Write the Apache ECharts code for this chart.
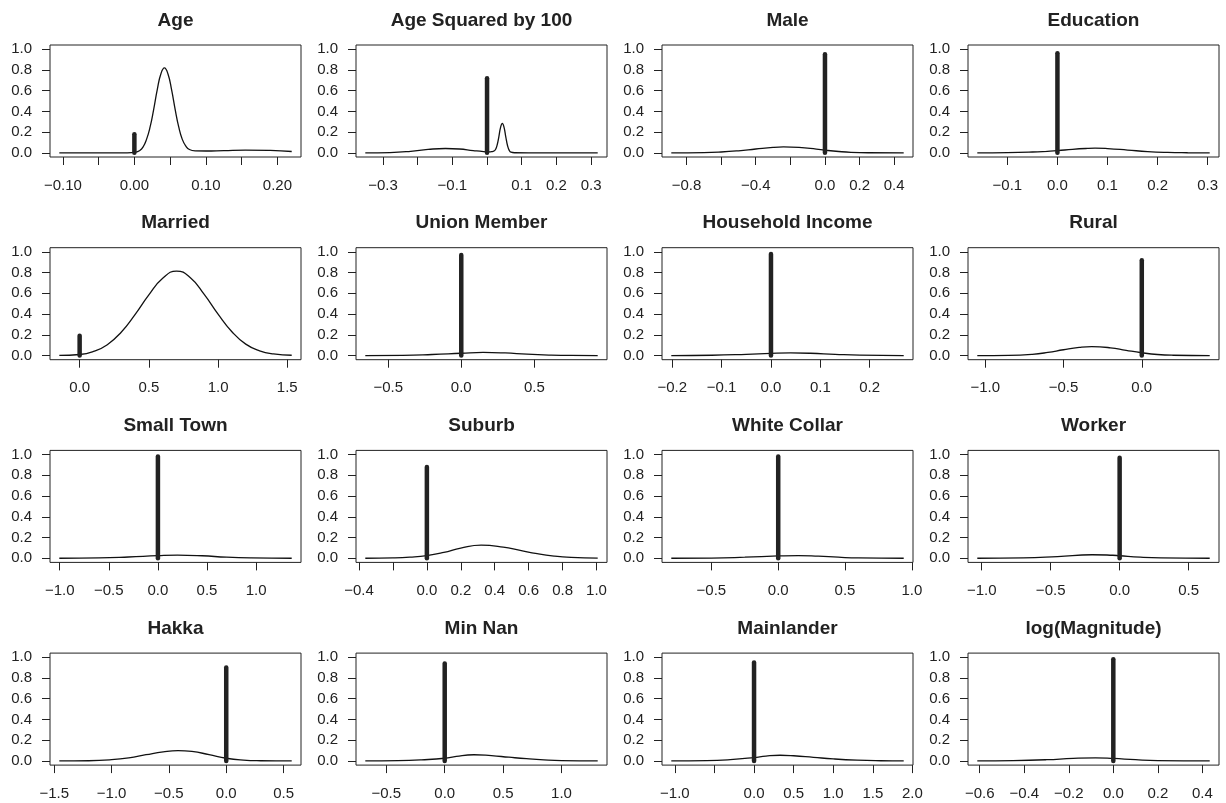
<!DOCTYPE html>
<html>
<head>
<meta charset="utf-8">
<script src="https://cdn.jsdelivr.net/npm/echarts@6/dist/echarts.min.js"></script>
<style>
  html, body { margin: 0; padding: 0; background: #fff; }
  #chart { width: 1226px; height: 803px; }
</style>
</head>
<body>
<div id="chart"></div>
<script>
const titles = ['Age', 'Age Squared by 100', 'Male', 'Education',
  'Married', 'Union Member', 'Household Income', 'Rural',
  'Small Town', 'Suburb', 'White Collar', 'Worker',
  'Hakka', 'Min Nan', 'Mainlander', 'log(Magnitude)'];

// height of the point mass at zero
const spikeHeights = [0.18, 0.72, 0.95, 0.96, 0.19, 0.97, 0.98, 0.92,
  0.98, 0.88, 0.98, 0.97, 0.90, 0.94, 0.95, 0.98];

// tick marks and the ones that carry a label
const xTicks = [
  [-0.10, -0.05, 0, 0.05, 0.10, 0.15, 0.20],
  [-0.3, -0.2, -0.1, 0, 0.1, 0.2, 0.3],
  [-0.8, -0.6, -0.4, -0.2, 0, 0.2, 0.4],
  [-0.1, 0, 0.1, 0.2, 0.3],
  [0, 0.5, 1.0, 1.5],
  [-0.5, 0, 0.5],
  [-0.2, -0.1, 0, 0.1, 0.2],
  [-1.0, -0.5, 0],
  [-1.0, -0.5, 0, 0.5, 1.0],
  [-0.4, -0.2, 0, 0.2, 0.4, 0.6, 0.8, 1.0],
  [-0.5, 0, 0.5, 1.0],
  [-1.0, -0.5, 0, 0.5],
  [-1.5, -1.0, -0.5, 0, 0.5],
  [-0.5, 0, 0.5, 1.0],
  [-1.0, -0.5, 0, 0.5, 1.0, 1.5, 2.0],
  [-0.6, -0.4, -0.2, 0, 0.2, 0.4]
];
const xLabels = [
  [-0.10, 0, 0.10, 0.20],
  [-0.3, -0.1, 0.1, 0.2, 0.3],
  [-0.8, -0.4, 0, 0.2, 0.4],
  [-0.1, 0, 0.1, 0.2, 0.3],
  [0, 0.5, 1.0, 1.5],
  [-0.5, 0, 0.5],
  [-0.2, -0.1, 0, 0.1, 0.2],
  [-1.0, -0.5, 0],
  [-1.0, -0.5, 0, 0.5, 1.0],
  [-0.4, 0, 0.2, 0.4, 0.6, 0.8, 1.0],
  [-0.5, 0, 0.5, 1.0],
  [-1.0, -0.5, 0, 0.5],
  [-1.5, -1.0, -0.5, 0, 0.5],
  [-0.5, 0, 0.5, 1.0],
  [-1.0, 0, 0.5, 1.0, 1.5, 2.0],
  [-0.6, -0.4, -0.2, 0, 0.2, 0.4]
];
const labelDigits = [2, 1, 1, 1, 1, 1, 1, 1, 1, 1, 1, 1, 1, 1, 1, 1];
const yTicks = [0, 0.2, 0.4, 0.6, 0.8, 1.0];

// density curves [x, density]
const curveAge = [[-0.105, 0], [-0.05, 0], [-0.01, 0], [0.002, 0.006], [0.007, 0.02],
  [0.012, 0.055], [0.017, 0.13], [0.022, 0.25], [0.027, 0.42], [0.032, 0.61], [0.037, 0.76],
  [0.042, 0.82], [0.047, 0.76], [0.052, 0.61], [0.057, 0.42], [0.062, 0.25], [0.067, 0.13],
  [0.072, 0.065], [0.077, 0.032], [0.085, 0.019], [0.1, 0.018], [0.125, 0.022], [0.155, 0.027],
  [0.19, 0.023], [0.22, 0.013]];
const curveAgeSq = [[-0.351, 0], [-0.28, 0.003], [-0.22, 0.015], [-0.17, 0.033], [-0.12, 0.042],
  [-0.08, 0.037], [-0.04, 0.022], [-0.01, 0.012], [0.005, 0.01], [0.014, 0.012], [0.019, 0.016],
  [0.024, 0.03], [0.029, 0.075], [0.034, 0.155], [0.039, 0.245], [0.044, 0.285], [0.049, 0.245],
  [0.054, 0.155], [0.059, 0.071], [0.064, 0.024], [0.069, 0.006], [0.08, 0.001], [0.12, 0], [0.319, 0]];
const curveMale = [[-0.888, 0], [-0.7, 0.002], [-0.6, 0.008], [-0.5, 0.02], [-0.4, 0.037],
  [-0.3, 0.053], [-0.24, 0.057], [-0.15, 0.052], [-0.05, 0.036], [0, 0.026], [0.08, 0.013],
  [0.15, 0.005], [0.25, 0.001], [0.455, 0]];
const curveEducation = [[-0.16, 0], [-0.1, 0.002], [-0.05, 0.008], [-0.02, 0.015], [0, 0.021],
  [0.03, 0.034], [0.06, 0.043], [0.075, 0.045], [0.1, 0.041], [0.14, 0.027], [0.18, 0.012],
  [0.22, 0.004], [0.26, 0.001], [0.304, 0]];
const curveMarried = [[-0.147, 0.001], [0, 0.01], [0.1, 0.04], [0.2, 0.105], [0.3, 0.225],
  [0.4, 0.395], [0.5, 0.585], [0.6, 0.745], [0.7, 0.815], [0.8, 0.75], [0.9, 0.59], [1.0, 0.40],
  [1.1, 0.23], [1.2, 0.11], [1.3, 0.046], [1.4, 0.016], [1.532, 0.003]];
const curveUnion = [[-0.657, 0], [-0.4, 0.002], [-0.2, 0.01], [0, 0.022], [0.15, 0.03],
  [0.3, 0.025], [0.45, 0.013], [0.6, 0.005], [0.75, 0.001], [0.934, 0]];
const curveIncome = [[-0.202, 0], [-0.12, 0.003], [-0.05, 0.012], [0, 0.021], [0.04, 0.025],
  [0.08, 0.022], [0.13, 0.012], [0.18, 0.004], [0.269, 0]];
const curveRural = [[-1.051, 0], [-0.85, 0.002], [-0.7, 0.012], [-0.6, 0.03], [-0.5, 0.056],
  [-0.4, 0.078], [-0.32, 0.086], [-0.2, 0.075], [-0.1, 0.05], [0, 0.027], [0.1, 0.01],
  [0.2, 0.003], [0.434, 0]];
const curveSmallTown = [[-1.004, 0], [-0.6, 0.003], [-0.3, 0.012], [0, 0.025], [0.2, 0.03],
  [0.45, 0.024], [0.7, 0.01], [0.95, 0.003], [1.362, 0]];
const curveSuburb = [[-0.363, 0], [-0.2, 0.003], [-0.1, 0.01], [0, 0.025], [0.1, 0.056],
  [0.2, 0.098], [0.32, 0.126], [0.45, 0.108], [0.55, 0.076], [0.65, 0.044], [0.75, 0.021],
  [0.85, 0.008], [1.007, 0.001]];
const curveWhiteCollar = [[-0.8, 0], [-0.5, 0.002], [-0.25, 0.01], [0, 0.022], [0.15, 0.026],
  [0.3, 0.02], [0.45, 0.01], [0.6, 0.003], [0.939, 0]];
const curveWorker = [[-1.032, 0], [-0.7, 0.003], [-0.45, 0.016], [-0.2, 0.034], [-0.05, 0.029],
  [0, 0.024], [0.15, 0.01], [0.3, 0.003], [0.653, 0]];
const curveHakka = [[-1.456, 0], [-1.2, 0.002], [-1.0, 0.012], [-0.85, 0.03], [-0.7, 0.06],
  [-0.55, 0.088], [-0.42, 0.1], [-0.3, 0.092], [-0.15, 0.061], [0, 0.026], [0.15, 0.008],
  [0.3, 0.002], [0.571, 0]];
const curveMinNan = [[-0.68, 0], [-0.4, 0.003], [-0.2, 0.011], [0, 0.026], [0.1, 0.045],
  [0.25, 0.06], [0.4, 0.051], [0.55, 0.036], [0.7, 0.022], [0.85, 0.011], [1.0, 0.004], [1.31, 0]];
const curveMainlander = [[-1.045, 0], [-0.6, 0.003], [-0.3, 0.013], [0, 0.033], [0.15, 0.047],
  [0.33, 0.055], [0.5, 0.05], [0.75, 0.035], [1.0, 0.02], [1.3, 0.008], [1.6, 0.002], [1.89, 0]];
const curveMagnitude = [[-0.611, 0], [-0.45, 0.003], [-0.3, 0.012], [-0.18, 0.025], [-0.08, 0.03],
  [0, 0.024], [0.1, 0.012], [0.2, 0.004], [0.433, 0]];

const curves = [curveAge, curveAgeSq, curveMale, curveEducation,
  curveMarried, curveUnion, curveIncome, curveRural,
  curveSmallTown, curveSuburb, curveWhiteCollar, curveWorker,
  curveHakka, curveMinNan, curveMainlander, curveMagnitude];

const font = '"Liberation Sans", Arial, Helvetica, sans-serif';
const ink = '#222';
const fmt = (v, d) => Number(v).toFixed(d).replace('-', '\u2212');

const grid = [], xAxis = [], yAxis = [], series = [], title = [];

titles.forEach((name, i) => {
  const col = i % 4, row = Math.floor(i / 4);
  const left = 50 + col * 306;
  const top = 45 + row * 202.7;
  const curve = curves[i];
  const a = curve[0][0], b = curve[curve.length - 1][0];
  const pad = (b - a) * 0.04;

  grid.push({
    left: left, top: top, width: 251, height: 112,
    show: true, borderColor: ink, borderWidth: 1,
    containLabel: false, outerBoundsMode: 'none'
  });
  title.push({
    text: name, left: left + 125.5, top: top - 34, textAlign: 'center', padding: 0,
    textStyle: { fontFamily: font, fontSize: 19, fontWeight: 'bold', color: ink }
  });
  xAxis.push({
    gridIndex: i, type: 'value', min: a - pad, max: b + pad,
    axisLine: { show: false, onZero: false },
    axisTick: { show: true, length: 8, lineStyle: { color: ink, width: 1 }, customValues: xTicks[i] },
    axisLabel: {
      customValues: xLabels[i], formatter: v => fmt(v, labelDigits[i]),
      margin: 21, fontSize: 15, color: ink, fontFamily: font
    },
    splitLine: { show: false }
  });
  yAxis.push({
    gridIndex: i, type: 'value', min: -0.04, max: 1.04,
    axisLine: { show: false, onZero: false },
    axisTick: { show: true, length: 8, lineStyle: { color: ink, width: 1 }, customValues: yTicks },
    axisLabel: {
      customValues: yTicks, formatter: v => fmt(v, 1),
      margin: 18, fontSize: 15, color: ink, fontFamily: font
    },
    splitLine: { show: false }
  });
  series.push({
    type: 'line', xAxisIndex: i, yAxisIndex: i, data: curve,
    smooth: 0.5, symbol: 'none',
    lineStyle: { color: '#111', width: 1.3 }
  });
  series.push({
    type: 'line', xAxisIndex: i, yAxisIndex: i,
    data: [[0, 0], [0, spikeHeights[i]]],
    symbol: 'none', z: 3,
    lineStyle: { color: ink, width: 4.5, cap: 'round' }
  });
});

const chart = echarts.init(document.getElementById('chart'), null, { renderer: 'canvas' });
chart.setOption({
  animation: false,
  backgroundColor: '#fff',
  title: title,
  grid: grid,
  xAxis: xAxis,
  yAxis: yAxis,
  series: series
});
</script>
</body>
</html>
